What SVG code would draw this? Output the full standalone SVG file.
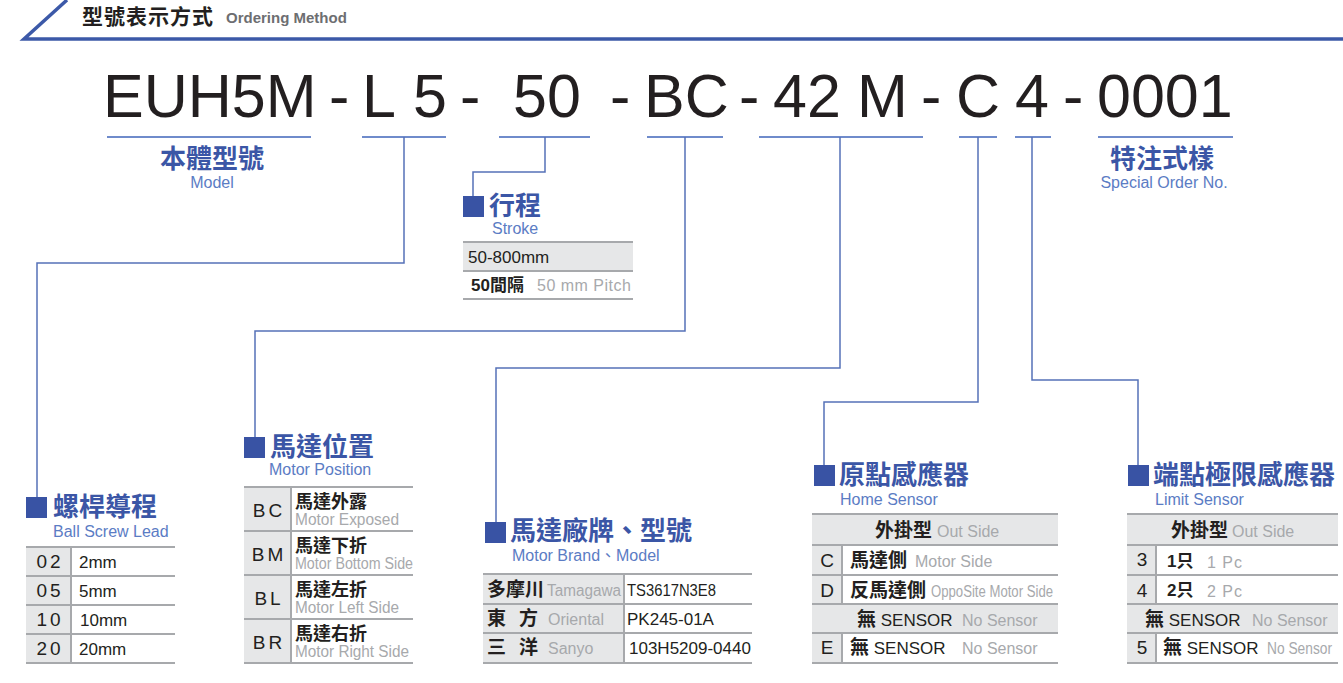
<svg xmlns="http://www.w3.org/2000/svg" width="1343" height="683" viewBox="0 0 1343 683">
<style>
.code{font-family:'Liberation Sans',sans-serif;font-size:61px;fill:#231f20}
.h{font-family:'Noto Sans CJK TC',sans-serif;font-weight:700;font-size:26px;fill:#3b56a6}
.sub{font-family:'Liberation Sans','Noto Sans CJK TC',sans-serif;font-size:16px;fill:#5b7cc4}
.sq{fill:#3953a4}
.conn{fill:none;stroke:#5571b8;stroke-width:1.5}
.ul{stroke:#6f8bcb;stroke-width:2}
.tl{stroke:#a7a9ac;stroke-width:2}
.gf{fill:#e6e7e8}
.t{font-family:'Liberation Sans','Noto Sans CJK TC',sans-serif;fill:#231f20;font-size:17px}
.b{font-weight:700}
.cj{font-family:'Noto Sans CJK TC',sans-serif;font-weight:700;font-size:19px;fill:#231f20}
.cs{font-family:'Noto Sans CJK TC',sans-serif;font-weight:700;font-size:18px;fill:#231f20}
.g{font-family:'Liberation Sans',sans-serif;fill:#a7a9ac;font-size:16px}
.k{font-family:'Liberation Sans',sans-serif;fill:#231f20;font-size:19px;text-anchor:middle}
</style>
<g id="header">
<polyline points="67,0 24,39 1343,39" fill="none" stroke="#3c59a8" stroke-width="3.5"/>
<text x="82" y="24" font-family="'Noto Sans CJK TC',sans-serif" font-weight="700" font-size="21" letter-spacing="1" fill="#231f20">型號表示方式</text>
<text x="226" y="23" font-family="'Liberation Sans',sans-serif" font-weight="700" font-size="15" fill="#6d6e71">Ordering Method</text>
</g>
<g id="code">
<text class="code" x="103" y="117">EUH5M</text>
<text class="code" x="329" y="117">-</text>
<text class="code" x="362" y="117">L</text>
<text class="code" x="413" y="117">5</text>
<text class="code" x="460" y="117">-</text>
<text class="code" x="513" y="117">50</text>
<text class="code" x="610" y="117">-</text>
<text class="code" x="644" y="117">BC</text>
<text class="code" x="739" y="117">-</text>
<text class="code" x="773" y="117">42</text>
<text class="code" x="857" y="117">M</text>
<text class="code" x="921" y="117">-</text>
<text class="code" x="956" y="117">C</text>
<text class="code" x="1015" y="117">4</text>
<text class="code" x="1063" y="117">-</text>
<text class="code" x="1097" y="117">0001</text>
</g>
<g id="underlines">
<line class="ul" x1="107" y1="137" x2="311" y2="137"/>
<line class="ul" x1="362" y1="137" x2="446" y2="137"/>
<line class="ul" x1="499" y1="137" x2="590" y2="137"/>
<line class="ul" x1="647" y1="137" x2="723" y2="137"/>
<line class="ul" x1="759" y1="137" x2="923" y2="137"/>
<line class="ul" x1="959" y1="137" x2="997" y2="137"/>
<line class="ul" x1="1015" y1="137" x2="1051" y2="137"/>
<line class="ul" x1="1098" y1="137" x2="1233" y2="137"/>
</g>
<g id="connectors">
<path class="conn" d="M404,137 V263 H37 V497"/>
<path class="conn" d="M545,137 V172 H473 V196"/>
<path class="conn" d="M685,137 V331 H255 V437"/>
<path class="conn" d="M840,137 V368 H496 V522"/>
<path class="conn" d="M978,137 V402 H824 V465"/>
<path class="conn" d="M1032,137 V380 H1138 V465"/>
</g>
<g id="model">
<text class="h" x="212" y="168" text-anchor="middle">本體型號</text>
<text class="sub" x="212" y="188" text-anchor="middle">Model</text>
</g>
<g id="special">
<text class="h" x="1162" y="168" text-anchor="middle">特注式樣</text>
<text class="sub" x="1164" y="188" text-anchor="middle">Special Order No.</text>
</g>
<g id="stroke">
<rect class="sq" x="463" y="196" width="21" height="21"/>
<text class="h" x="489" y="215">行程</text>
<text class="sub" x="492" y="234">Stroke</text>
<rect class="gf" x="463" y="242" width="170" height="29"/>
<line class="tl" x1="463" y1="242" x2="633" y2="242" stroke-width="2.5"/>
<line class="tl" x1="463" y1="271" x2="633" y2="271"/>
<line class="tl" x1="463" y1="299" x2="633" y2="299"/>
<text class="t" x="468" y="263" font-size="18">50-800mm</text>
<text class="t b" x="471" y="291" font-size="18">50間隔</text>
<text class="g" x="537" y="291" letter-spacing="0.5">50 mm Pitch</text>
</g>
<g id="lead">
<rect class="sq" x="26" y="497" width="21" height="21"/>
<text class="h" x="53" y="516">螺桿導程</text>
<text class="sub" x="53" y="537">Ball Screw Lead</text>
<rect class="gf" x="26" y="547" width="45" height="116"/>
<line class="tl" x1="71" y1="547" x2="71" y2="663"/>
<line class="tl" x1="26" y1="547" x2="175" y2="547" stroke-width="2.5"/>
<line class="tl" x1="26" y1="576" x2="175" y2="576"/>
<line class="tl" x1="26" y1="605" x2="175" y2="605"/>
<line class="tl" x1="26" y1="634" x2="175" y2="634"/>
<line class="tl" x1="26" y1="663" x2="175" y2="663"/>
<text class="k" x="50" y="568" font-size="17" letter-spacing="3">02</text>
<text class="k" x="50" y="597" font-size="17" letter-spacing="3">05</text>
<text class="k" x="50" y="626" font-size="17" letter-spacing="3">10</text>
<text class="k" x="50" y="655" font-size="17" letter-spacing="3">20</text>
<text class="t" x="79" y="568">2mm</text>
<text class="t" x="79" y="597">5mm</text>
<text class="t" x="80" y="626">10mm</text>
<text class="t" x="79" y="655">20mm</text>
</g>
<g id="position">
<rect class="sq" x="244" y="437" width="21" height="21"/>
<text class="h" x="270" y="456">馬達位置</text>
<text class="sub" x="269" y="475">Motor Position</text>
<rect class="gf" x="244" y="487" width="47" height="176"/>
<line class="tl" x1="291" y1="487" x2="291" y2="663"/>
<line class="tl" x1="244" y1="487" x2="413" y2="487" stroke-width="2.5"/>
<line class="tl" x1="244" y1="531" x2="413" y2="531"/>
<line class="tl" x1="244" y1="575" x2="413" y2="575"/>
<line class="tl" x1="244" y1="619" x2="413" y2="619"/>
<line class="tl" x1="244" y1="663" x2="413" y2="663"/>
<text class="k" x="269" y="517" font-size="21" letter-spacing="3">BC</text>
<text class="k" x="269" y="561" font-size="21" letter-spacing="3">BM</text>
<text class="k" x="269" y="605" font-size="21" letter-spacing="3">BL</text>
<text class="k" x="269" y="649" font-size="21" letter-spacing="3">BR</text>
<text class="cs" x="295" y="508">馬達外露</text>
<text class="g" x="295" y="525" font-size="14" textLength="104" lengthAdjust="spacingAndGlyphs">Motor Exposed</text>
<text class="cs" x="295" y="552">馬達下折</text>
<text class="g" x="295" y="569" font-size="14" textLength="118" lengthAdjust="spacingAndGlyphs">Motor Bottom Side</text>
<text class="cs" x="295" y="596">馬達左折</text>
<text class="g" x="295" y="613" font-size="14" textLength="104" lengthAdjust="spacingAndGlyphs">Motor Left Side</text>
<text class="cs" x="295" y="640">馬達右折</text>
<text class="g" x="295" y="657" font-size="14" textLength="114" lengthAdjust="spacingAndGlyphs">Motor Right Side</text>
</g>
<g id="brand">
<rect class="sq" x="485" y="522" width="21" height="21"/>
<text class="h" x="510" y="540">馬達廠牌、型號</text>
<text class="sub" x="512" y="561">Motor Brand、Model</text>
<rect class="gf" x="483" y="574" width="141" height="89"/>
<line class="tl" x1="624" y1="574" x2="624" y2="663"/>
<line class="tl" x1="483" y1="574" x2="752" y2="574" stroke-width="2.5"/>
<line class="tl" x1="483" y1="604" x2="752" y2="604"/>
<line class="tl" x1="483" y1="633" x2="752" y2="633"/>
<line class="tl" x1="483" y1="663" x2="752" y2="663"/>
<text class="cj" x="487" y="596">多摩川</text>
<text class="g" x="547" y="596" font-size="15" textLength="74" lengthAdjust="spacingAndGlyphs">Tamagawa</text>
<text class="cj" x="487" y="625">東</text>
<text class="cj" x="519" y="625">方</text>
<text class="g" x="548" y="625" font-size="16.5">Oriental</text>
<text class="cj" x="487" y="654">三</text>
<text class="cj" x="519" y="654">洋</text>
<text class="g" x="548" y="654" font-size="16.5">Sanyo</text>
<text class="t" x="627" y="596" font-size="16" textLength="89" lengthAdjust="spacingAndGlyphs">TS3617N3E8</text>
<text class="t" x="627" y="625" font-size="16">PK245-01A</text>
<text class="t" x="629" y="654" font-size="16">103H5209-0440</text>
</g>
<g id="home">
<rect class="sq" x="814" y="465" width="21" height="21"/>
<text class="h" x="839" y="484">原點感應器</text>
<text class="sub" x="840" y="505">Home Sensor</text>
<rect class="gf" x="812" y="514" width="246" height="31"/>
<rect class="gf" x="812" y="604" width="246" height="29"/>
<rect class="gf" x="812" y="545" width="30" height="59"/>
<rect class="gf" x="812" y="633" width="30" height="30"/>
<line class="tl" x1="842" y1="545" x2="842" y2="604"/>
<line class="tl" x1="842" y1="633" x2="842" y2="663"/>
<line class="tl" x1="812" y1="514" x2="1058" y2="514" stroke-width="2.5"/>
<line class="tl" x1="812" y1="545" x2="1058" y2="545"/>
<line class="tl" x1="812" y1="575" x2="1058" y2="575"/>
<line class="tl" x1="812" y1="604" x2="1058" y2="604"/>
<line class="tl" x1="812" y1="633" x2="1058" y2="633"/>
<line class="tl" x1="812" y1="663" x2="1058" y2="663"/>
<text class="cj" x="875" y="537">外掛型</text>
<text class="g" x="937" y="537" font-size="16.5">Out Side</text>
<text class="k" x="827" y="567">C</text>
<text class="cj" x="850" y="567">馬達側</text>
<text class="g" x="915" y="567" font-size="17">Motor Side</text>
<text class="k" x="827" y="597">D</text>
<text class="cj" x="850" y="597">反馬達側</text>
<text class="g" x="931" y="597" font-size="15" textLength="122" lengthAdjust="spacingAndGlyphs">OppoSite Motor Side</text>
<text class="t" x="857" y="626" font-size="18"><tspan class="cj">無</tspan> SENSOR</text>
<text class="g" x="962" y="626">No Sensor</text>
<text class="k" x="827" y="654">E</text>
<text class="t" x="850" y="654" font-size="18"><tspan class="cj">無</tspan>  SENSOR</text>
<text class="g" x="962" y="654">No Sensor</text>
</g>
<g id="limit">
<rect class="sq" x="1128" y="465" width="21" height="21"/>
<text class="h" x="1153" y="484">端點極限感應器</text>
<text class="sub" x="1155" y="505">Limit Sensor</text>
<rect class="gf" x="1127" y="514" width="211" height="31"/>
<rect class="gf" x="1127" y="604" width="211" height="29"/>
<rect class="gf" x="1127" y="545" width="29" height="59"/>
<rect class="gf" x="1127" y="633" width="29" height="30"/>
<line class="tl" x1="1156" y1="545" x2="1156" y2="604"/>
<line class="tl" x1="1156" y1="633" x2="1156" y2="663"/>
<line class="tl" x1="1127" y1="514" x2="1338" y2="514" stroke-width="2.5"/>
<line class="tl" x1="1127" y1="545" x2="1338" y2="545"/>
<line class="tl" x1="1127" y1="575" x2="1338" y2="575"/>
<line class="tl" x1="1127" y1="604" x2="1338" y2="604"/>
<line class="tl" x1="1127" y1="633" x2="1338" y2="633"/>
<line class="tl" x1="1127" y1="663" x2="1338" y2="663"/>
<text class="cj" x="1171" y="537">外掛型</text>
<text class="g" x="1232" y="537" font-size="16.5">Out Side</text>
<text class="k" x="1142" y="566">3</text>
<text class="t b" x="1167" y="567" font-size="18">1只</text>
<text class="g" x="1207" y="568" letter-spacing="1">1 Pc</text>
<text class="k" x="1142" y="597">4</text>
<text class="t b" x="1167" y="596" font-size="18">2只</text>
<text class="g" x="1207" y="597" letter-spacing="1">2 Pc</text>
<text class="t" x="1145" y="626" font-size="18"><tspan class="cj">無</tspan> SENSOR</text>
<text class="g" x="1252" y="626">No Sensor</text>
<text class="k" x="1142" y="654">5</text>
<text class="t" x="1163" y="654" font-size="18"><tspan class="cj">無</tspan> SENSOR</text>
<text class="g" x="1267" y="654" textLength="65" lengthAdjust="spacingAndGlyphs">No Sensor</text>
</g>
</svg>
